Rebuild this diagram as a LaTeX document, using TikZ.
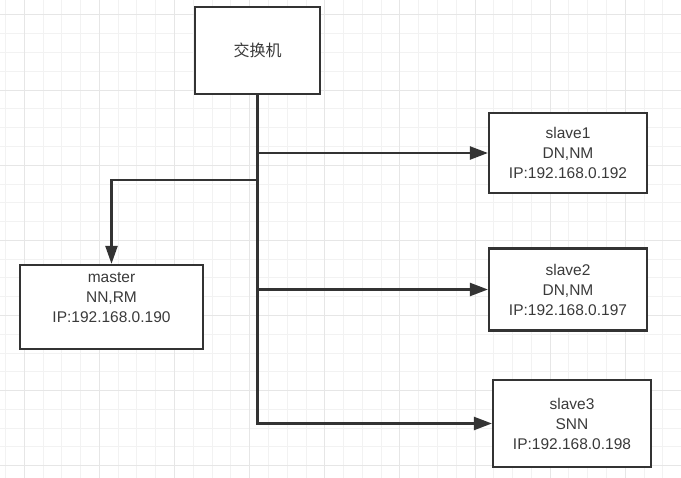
\documentclass[tikz,border=0pt]{standalone}
\usepackage{fontspec}
\setmainfont{Liberation Sans}
\newfontfamily\cjk{Noto Sans CJK SC}
\usetikzlibrary{arrows.meta}
\definecolor{ink}{HTML}{333333}
\definecolor{txtc}{HTML}{3A3A3A}
\definecolor{gridminor}{HTML}{F2F2F2}
\definecolor{gridmajor}{HTML}{E6E6E6}
\tikzset{
  x=1pt, y=-1pt,
  box/.style={draw=ink, line width=2.2pt, fill=white, rectangle, inner sep=0pt,
    text=txtc, align=center, font=\fontsize{15.5}{20}\selectfont},
  txt/.style={text=txtc, align=center, inner sep=0pt, font=\fontsize{15.5}{20}\selectfont},
  conn/.style={draw=ink, line width=2.3pt, -{Triangle[length=18pt,width=13pt]}},
}
\begin{document}
\begin{tikzpicture}
\useasboundingbox (0,0) rectangle (681,478);
\fill[white] (0,0) rectangle (681,478);
% grid
\foreach \i in {-1,...,35} {
  \pgfmathsetmacro\gx{24.3+18.78*\i}
  \draw[gridminor, line width=1pt] (\gx,0) -- (\gx,478);
}
\foreach \i in {-1,...,25} {
  \pgfmathsetmacro\gy{15+18.78*\i}
  \draw[gridminor, line width=1pt] (0,\gy) -- (681,\gy);
}
\foreach \i in {0,...,8} {
  \pgfmathsetmacro\gx{24.3+75.12*\i}
  \draw[gridmajor, line width=1pt] (\gx,0) -- (\gx,478);
}
\foreach \i in {0,...,6} {
  \pgfmathsetmacro\gy{15+75.12*\i}
  \draw[gridmajor, line width=1pt] (0,\gy) -- (681,\gy);
}
% nodes
\node[box, minimum width=125pt, minimum height=87pt, font=\cjk\fontsize{16}{20}\selectfont] (sw) at (257.5,50.5) {交换机};
\node[box, minimum width=183pt, minimum height=84pt] (master) at (111.5,307) {};
\node[txt] (mastertxt) at ([yshift=9pt]master.center) {master\\NN,RM\\IP:192.168.0.190};
\node[box, minimum width=158pt, minimum height=80pt] (s1) at (568,153) {slave1\\DN,NM\\IP:192.168.0.192};
\node[box, minimum width=158pt, minimum height=82pt] (s2) at (568,289.5) {slave2\\DN,NM\\IP:192.168.0.197};
\node[box, minimum width=158pt, minimum height=87pt] (s3) at (572,423.5) {slave3\\SNN\\IP:192.168.0.198};
\coordinate (j) at (257.5,180);
% connectors
\draw[conn] (sw.south) |- (s1.west);
\draw[conn] (sw.south) |- (s2.west);
\draw[conn] (sw.south) |- (s3.west);
\draw[conn, -{Triangle[length=18pt,width=12pt]}] (sw.south) -- (j) -| (master.north);
\end{tikzpicture}
\end{document}
